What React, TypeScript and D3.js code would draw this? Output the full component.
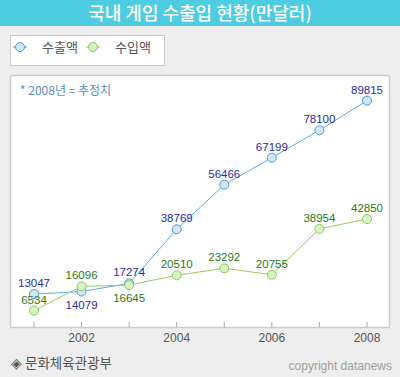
import React from "react";
import * as d3 from "d3";

const years = [2001, 2002, 2003, 2004, 2005, 2006, 2007, 2008];
const exportValues = [13047, 14079, 17274, 38769, 56466, 67199, 78100, 89815];
const importValues = [6534, 16096, 16645, 20510, 23292, 20755, 38954, 42850];
const exportLabelBelow = [false, true, false, false, false, false, false, false];
const importLabelBelow = [false, false, true, false, false, false, false, false];
const tickYears = [2002, 2004, 2006, 2008];
const seriesNames = ["수출액", "수입액"];

const W = 400;
const H = 377;
const numFont = "'Liberation Sans', Arial, sans-serif";
const krFont = "'Noto Sans CJK KR', sans-serif";

export default function App() {
  const x = d3.scaleLinear().domain([2001, 2008]).range([34, 367]);
  const y = d3.scaleLinear().domain([0, 100000]).range([327, 75]);
  const line = d3
    .line<number>()
    .x((_, i) => x(years[i]))
    .y((d) => y(d));

  const series = [
    {
      values: exportValues,
      below: exportLabelBelow,
      stroke: "#5ab0e4",
      mStroke: "#4a9fd6",
      fill: "#d2e6f6",
      text: "#2b2ba8",
    },
    {
      values: importValues,
      below: importLabelBelow,
      stroke: "#99cc66",
      mStroke: "#88c85a",
      fill: "#d6f5c2",
      text: "#2a7a1a",
    },
  ];

  return (
    <svg
      width={W}
      height={H}
      style={{ position: "absolute", left: 0, top: 0, display: "block" }}
    >
      <rect x={0} y={0} width={W} height={H} fill="#eeeeee" />
      <rect x={0} y={0} width={W} height={26} fill="#4ecde2" />
      <text
        x={200}
        y={19.5}
        textAnchor="middle"
        fill="#ffffff"
        fontFamily={krFont}
        fontSize={18}
        fontWeight={500}
      >
        국내 게임 수출입 현황(만달러)
      </text>

      {/* legend */}
      <rect x={10.5} y={35.5} width={154} height={30} fill="#fff" stroke="#cccccc" />
      {series.map((s, i) => {
        const lx = i === 0 ? 20 : 93;
        return (
          <g key={i}>
            <line x1={lx - 7} x2={lx + 7} y1={47} y2={47} stroke={s.mStroke} />
            <circle cx={lx} cy={47} r={4.5} fill={s.fill} stroke={s.mStroke} />
            <text
              x={lx + 22}
              y={52}
              fill="#555"
              fontFamily={krFont}
              fontSize={13}
            >
              {seriesNames[i]}
            </text>
          </g>
        );
      })}

      {/* plot box */}
      <rect x={10.5} y={75.5} width={379} height={252} fill="#fff" stroke="#cccccc" strokeWidth={1.5} />
      <text x={20} y={95} fill="#5b8ec8" fontFamily={krFont} fontSize={12}>
        * 2008년 = 추정치
      </text>

      {/* ticks */}
      {years.map((yr) => (
        <line
          key={yr}
          x1={x(yr)}
          x2={x(yr)}
          y1={322}
          y2={327}
          stroke="#aaaaaa"
        />
      ))}
      {tickYears.map((yr) => (
        <text
          key={yr}
          x={x(yr)}
          y={342}
          textAnchor="middle"
          fill="#555"
          fontFamily={numFont}
          fontSize={12}
        >
          {yr}
        </text>
      ))}

      {/* lines */}
      {series.map((s, i) => (
        <path key={"l" + i} d={line(s.values) || ""} fill="none" stroke={s.stroke} strokeWidth={1} />
      ))}
      {series.map((s, i) => (
        <g key={"m" + i}>
          {s.values.map((v, j) => (
            <circle
              key={j}
              cx={x(years[j])}
              cy={y(v)}
              r={4.5}
              fill={s.fill}
              stroke={s.mStroke}
            />
          ))}
        </g>
      ))}
      {series.map((s, i) => (
        <g key={"t" + i}>
          {s.values.map((v, j) => (
            <text
              key={j}
              x={x(years[j])}
              y={s.below[j] ? y(v) + 17 : y(v) - 7}
              textAnchor="middle"
              fill={s.text}
              fontFamily={numFont}
              fontSize={11.5}
            >
              {v}
            </text>
          ))}
        </g>
      ))}

      <text x={11} y={368} fill="#555" fontFamily={krFont} fontSize={13.5}>
        ◈ 문화체육관광부
      </text>
      <text
        x={392}
        y={370}
        textAnchor="end"
        fill="#a0a0a0"
        fontFamily={numFont}
        fontSize={12}
      >
        copyright datanews
      </text>
    </svg>
  );
}
